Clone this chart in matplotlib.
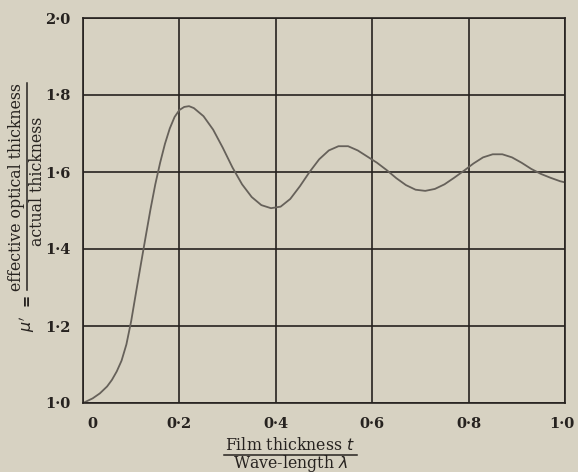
import matplotlib
matplotlib.use("Agg")
import matplotlib.pyplot as plt
from matplotlib.lines import Line2D
import matplotlib.transforms as mtransforms

# Data
film_ratio = [0.0, 0.02, 0.035, 0.05, 0.06, 0.07, 0.08, 0.09, 0.10, 0.11, 0.12, 0.13, 0.14,
              0.15, 0.16, 0.17, 0.18, 0.19, 0.20, 0.21, 0.22, 0.23, 0.25, 0.27, 0.29,
              0.31, 0.33, 0.35, 0.37, 0.39, 0.41, 0.43, 0.45, 0.47, 0.49, 0.51, 0.53,
              0.55, 0.57, 0.59, 0.61, 0.63, 0.65, 0.67, 0.69, 0.71, 0.73, 0.75, 0.77,
              0.79, 0.81, 0.83, 0.85, 0.87, 0.89, 0.91, 0.93, 0.95, 0.97, 0.99, 1.0]
mu_prime = [1.0, 1.012, 1.025, 1.043, 1.06, 1.082, 1.11, 1.152, 1.213, 1.287, 1.36, 1.432, 1.503,
            1.568, 1.624, 1.673, 1.713, 1.743, 1.761, 1.769, 1.771, 1.766, 1.745, 1.71, 1.663,
            1.612, 1.568, 1.535, 1.514, 1.506, 1.51, 1.53, 1.563, 1.60, 1.633, 1.656, 1.667,
            1.667, 1.656, 1.64, 1.624, 1.605, 1.584, 1.566, 1.554, 1.551, 1.556, 1.568, 1.585,
            1.603, 1.622, 1.638, 1.646, 1.646, 1.638, 1.624, 1.608, 1.595, 1.585, 1.576, 1.573]

x_ticks = [0, 0.2, 0.4, 0.6, 0.8, 1.0]
x_tick_labels = ["0", "0·2", "0·4", "0·6", "0·8", "1·0"]
y_ticks = [1.0, 1.2, 1.4, 1.6, 1.8, 2.0]
y_tick_labels = ["1·0", "1·2", "1·4", "1·6", "1·8", "2·0"]

bg = "#d7d2c2"
ink = "#26221f"
curve_col = "#66615a"
serif = ["DejaVu Serif"]
fs = 10.5
lfs = 11.3

fig = plt.figure(figsize=(5.78, 4.72), dpi=100, facecolor=bg)
ax = fig.add_axes([83/578, 1-403/472, (565-83)/578, (403-18)/472])
ax.set_facecolor(bg)

ax.plot(film_ratio, mu_prime, color=curve_col, lw=1.3, solid_capstyle="round")

ax.set_xlim(0, 1.0)
ax.set_ylim(1.0, 2.0)
ax.set_xticks(x_ticks)
ax.set_yticks(y_ticks)
ax.set_xticklabels(x_tick_labels, fontfamily=serif, fontsize=fs, color=ink, fontweight="bold")
ax.set_yticklabels(y_tick_labels, fontfamily=serif, fontsize=fs, color=ink, fontweight="bold")
ax.tick_params(length=0, pad=9)
ax.tick_params(axis="x", pad=10)
ax.grid(True, color=ink, lw=1.2)
for s in ax.spines.values():
    s.set_color(ink)
    s.set_linewidth(1.2)

# nudge the "0" label to the right like in the original
lbls = ax.get_xticklabels()
lbls[0].set_transform(lbls[0].get_transform() + mtransforms.ScaledTranslation(9/100, 0, fig.dpi_scale_trans))
lbls[-1].set_transform(lbls[-1].get_transform() + mtransforms.ScaledTranslation(-3/100, 0, fig.dpi_scale_trans))

def fx(px):
    return px / 578
def fy(py):
    return 1 - py / 472

# x-axis label as a fraction
fig.text(fx(290), fy(445), "Film thickness $t$", ha="center", va="center",
         fontfamily=serif, fontsize=lfs, color=ink)
fig.add_artist(Line2D([fx(224), fx(357)], [fy(455), fy(455)], color=ink, lw=1.1))
fig.text(fx(290), fy(463), "Wave-length $\\lambda$", ha="center", va="center",
         fontfamily=serif, fontsize=lfs, color=ink)

# y-axis label as a fraction
fig.text(fx(17), fy(187), "effective optical thickness", ha="center", va="center",
         rotation=90, fontfamily=serif, fontsize=lfs, color=ink)
fig.add_artist(Line2D([fx(27), fx(27)], [fy(83), fy(290)], color=ink, lw=1.1))
fig.text(fx(37), fy(181), "actual thickness", ha="center", va="center",
         rotation=90, fontfamily=serif, fontsize=lfs, color=ink)
fig.text(fx(27), fy(300), "=", ha="center", va="center",
         rotation=90, fontfamily=serif, fontsize=fs, color=ink, fontweight="bold")
fig.text(fx(27), fy(324), "$\\mu'$", ha="center", va="center",
         rotation=90, fontfamily=serif, fontsize=11.5, color=ink)

fig.savefig("out.png", dpi=100, facecolor=bg)
